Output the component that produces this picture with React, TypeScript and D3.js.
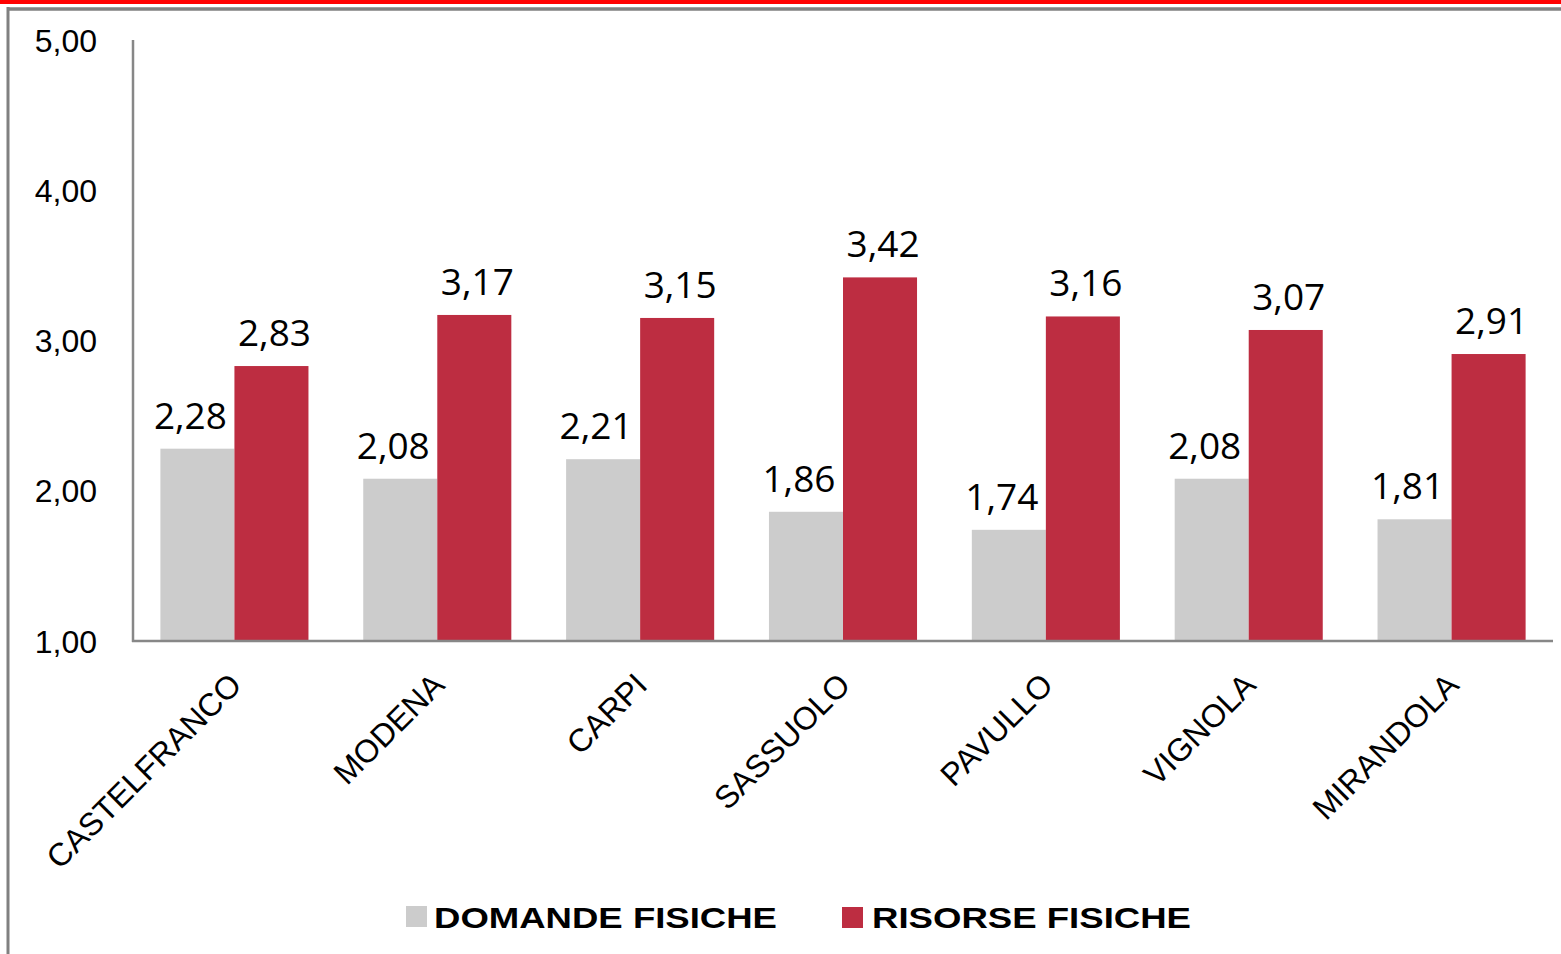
import * as d3 from "d3";
import React from "react";

const categories = ["CASTELFRANCO", "MODENA", "CARPI", "SASSUOLO", "PAVULLO", "VIGNOLA", "MIRANDOLA"];
const domande = [2.28, 2.08, 2.21, 1.86, 1.74, 2.08, 1.81];
const risorse = [2.83, 3.17, 3.15, 3.42, 3.16, 3.07, 2.91];
const yTicks = [1, 2, 3, 4, 5];
const seriesNames = ["DOMANDE FISICHE", "RISORSE FISICHE"];
const seriesColors = ["#cccccc", "#bd2d41"];

const W = 1561;
const H = 954;

const App: React.FC = () => {
  const x0 = d3.scaleBand<string>().domain(categories).range([133, 1553]).padding(0);
  const x1 = d3.scaleBand<string>().domain(["d", "r"]).range([0, x0.bandwidth()]).paddingInner(0).paddingOuter(0.37);
  const y = d3.scaleLinear().domain([1, 5]).range([641, 40]);
  const fmt = (v: number) => d3.format(".2f")(v).replace(".", ",");

  const series = [domande, risorse];
  const keys = ["d", "r"];
  // labels sit a little off the bar centre, as in the original
  const labelShift = [-7, 3];

  return (
    <svg width={W} height={H} style={{ position: "absolute", left: 0, top: 0 }}>
      <rect x={0} y={0} width={W} height={H} fill="#fff" />
      {/* frame */}
      <rect x={0} y={0} width={W} height={4} fill="#ff0000" />
      <line x1={7} x2={W} y1={9} y2={9} stroke="#808080" strokeWidth={3.5} />
      <line x1={8} x2={8} y1={7} y2={H} stroke="#808080" strokeWidth={3} />

      {/* y tick labels */}
      {yTicks.map(t => (
        <text key={t} x={97} y={y(t)} dy="0.36em" textAnchor="end"
          fontFamily="'Liberation Sans', Arial, sans-serif" fontSize={32} fill="#000">
          {fmt(t)}
        </text>
      ))}

      {/* bars */}
      {categories.map((c, i) => (
        <g key={c} transform={`translate(${x0(c)},0)`}>
          {series.map((s, j) => (
            <rect key={j} x={x1(keys[j])} y={y(s[i])} width={x1.bandwidth()}
              height={y(1) - y(s[i])} fill={seriesColors[j]} />
          ))}
          {series.map((s, j) => (
            <text key={"l" + j} x={(x1(keys[j]) as number) + x1.bandwidth() / 2 + labelShift[j]} y={y(s[i]) - 20}
              textAnchor="middle" fontFamily="'Open Sans', sans-serif" fontSize={37} fill="#000">
              {fmt(s[i])}
            </text>
          ))}
        </g>
      ))}

      {/* axes */}
      <line x1={133} x2={133} y1={y(5)} y2={y(1) + 1} stroke="#878787" strokeWidth={2.5} />
      <line x1={132} x2={1553} y1={y(1)} y2={y(1)} stroke="#878787" strokeWidth={2.5} />

      {/* category labels */}
      {categories.map(c => {
        const cx = (x0(c) as number) + x0.bandwidth() / 2 + 9;
        return (
          <text key={c} transform={`translate(${cx},687) rotate(-45)`} textAnchor="end"
            fontFamily="'Liberation Sans', Arial, sans-serif" fontSize={32} fill="#000">
            {c}
          </text>
        );
      })}

      {/* legend */}
      <rect x={406} y={906} width={21} height={21} fill={seriesColors[0]} />
      <text x={434} y={928} fontFamily="'Liberation Sans', Arial, sans-serif" fontWeight="bold"
        fontSize={30} textLength={343} lengthAdjust="spacingAndGlyphs" fill="#000">
        {seriesNames[0]}
      </text>
      <rect x={842} y={907} width={21} height={21} fill={seriesColors[1]} />
      <text x={872} y={928} fontFamily="'Liberation Sans', Arial, sans-serif" fontWeight="bold"
        fontSize={30} textLength={319} lengthAdjust="spacingAndGlyphs" fill="#000">
        {seriesNames[1]}
      </text>
    </svg>
  );
};

export default App;
